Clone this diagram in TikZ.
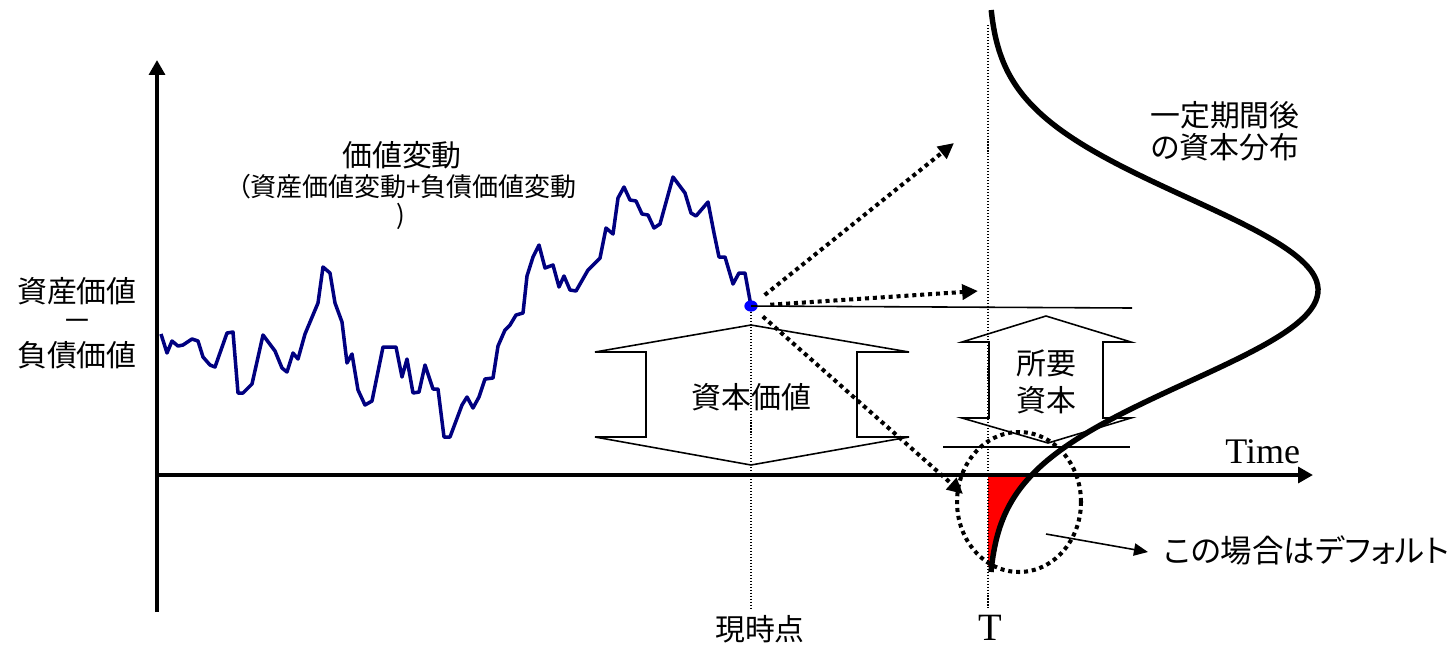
\documentclass[tikz,border=0pt]{standalone}
\usepackage{fontspec}
\newfontfamily\jp{Noto Sans CJK JP}[RawFeature=+palt]
\newfontfamily\tms{Liberation Serif}
\usetikzlibrary{arrows.meta,shapes.geometric}
\definecolor{walkc}{RGB}{0,0,128}
\definecolor{dotc}{RGB}{0,0,255}
\tikzset{
  jl/.style={font=\jp\fontsize{17}{20}\selectfont, inner sep=0pt},
  js/.style={font=\jp\fontsize{14.8}{17}\selectfont, inner sep=0pt},
  jd/.style={font=\jp\fontsize{17.9}{20}\selectfont, inner sep=0pt},
  axisline/.style={line width=2.1pt, -{Triangle[length=8.5pt,width=9pt]}},
  walk/.style={draw=walkc, line width=2pt, line join=round},
  dotline/.style={line width=2.3pt, dash pattern=on 2.3pt off 2.2pt},
  dotarrow/.style={dotline, -{Triangle[length=9pt,width=8.5pt]}},
  guide/.style={line width=0.6pt, dash pattern=on 0.6pt off 1.1pt},
  thinline/.style={line width=0.9pt},
  pointer/.style={line width=0.9pt, -{Triangle[length=8pt,width=7pt]}},
  dist/.style={line width=3.1pt, line cap=butt},
}
\begin{document}
\begin{tikzpicture}[x=0.02cm,y=-0.02cm]
\useasboundingbox (0,0) rectangle (1454,647);

% coordinates
\coordinate (ybot) at (157,612);
\coordinate (ytop) at (157,60);
\coordinate (xo) at (157,475);
\coordinate (xend) at (1313,475);
\coordinate (g1b) at (751,609);
\coordinate (g2t) at (988,25);
\coordinate (g2b) at (988,609);
\coordinate (h1e) at (1132,308);
\coordinate (h2s) at (943,447);
\coordinate (h2e) at (1130,447);
\coordinate (tip1) at (954,143);
\coordinate (tip2) at (978,291);
\coordinate (tip3) at (963,494);
\coordinate (ps) at (1046,534);
\coordinate (pe) at (1148,552);

% red default area
\fill[red] (988,475) -- plot[domain=475:567, samples=40] ({988+330*exp(-0.5*((\x-290)/92)^2)}, \x) -- (988,567) -- cycle;

% guides
\draw[guide] (751,306) -- (g1b);
\draw[guide] (g2t) -- (g2b);

% axes
\draw[axisline] (ybot) -- (ytop);
\draw[axisline] (xo) -- (xend);

% random walk
\draw[walk] plot coordinates {(161,334) (167,353) (172,341) (178,346) (183,345) (192,339) (198,341) (203,357) (210,365) (215,367) (227,333) (233,332) (238,393) (243,393) (252,384) (263,335) (275,351) (282,368) (287,372) (293,353) (298,359) (305,334) (318,303) (323,267) (330,273) (335,303) (342,322) (347,363) (352,354) (358,390) (365,405) (372,401) (383,347) (396,347) (402,377) (407,359) (413,393) (419,392) (425,365) (433,389) (438,389) (444,437) (450,437) (462,405) (467,397) (473,408) (479,397) (485,379) (493,378) (498,346) (505,330) (510,325) (516,315) (523,313) (527,276) (533,257) (539,245) (545,268) (553,265) (559,287) (564,276) (570,290) (576,291) (588,270) (600,258) (606,228) (613,234) (618,198) (624,187) (630,200) (636,201) (642,214) (648,215) (654,228) (660,224) (673,177) (685,193) (691,213) (696,216) (708,202) (714,233) (719,257) (725,257) (733,284) (739,273) (745,273) (751,306)};

\node[ellipse, fill=dotc, inner sep=0pt, minimum width=7.6pt, minimum height=6.4pt] (p) at (751,306) {};

% horizontal reference lines
\draw[thinline] (p.center) -- (h1e);
\draw[thinline] (h2s) -- (h2e);

% capital value double arrow
\draw[thinline] (751,325) -- (909,352) -- (857,352) -- (857,437) -- (909,437) -- (751,465) -- (595,437) -- (646,437) -- (646,352) -- (595,352) -- cycle;
\node[jl] (cap) at (751.5,397) {資本価値};

% required capital double arrow
\draw[thinline] (1046,316) -- (1131,342) -- (1103,342) -- (1103,418) -- (1131,418) -- (1048,443) -- (962,418) -- (989,418) -- (989,342) -- (962,342) -- cycle;
\node[jl] (req1) at (1046.5,363) {所要};
\node[jl] (req2) at (1046.5,400) {資本};

% dotted scenario arrows
\draw[dotarrow, shorten <=10pt] (p.center) -- (tip1);
\draw[dotarrow, shorten <=11pt] (p.center) -- (tip2);
\draw[dotarrow, shorten <=9pt] (p.center) -- (tip3);

% distribution
\draw[dist] plot[domain=10:572, samples=140, smooth] ({988+330*exp(-0.5*((\x-290)/92)^2)}, \x);

% default circle
\draw[dotline] (1019,502) ellipse [x radius=1.24cm, y radius=1.4cm];
\draw[pointer] (ps) -- (pe);

% labels
\node[jl] (vt) at (402,155) {価値変動};
\node[js, anchor=east] (vs) at (577,187) {（資産価値変動+負債価値変動};
\node[js] (vp) at (401,216) {)};
\node[jl] (la) at (77,291) {資産価値};
\node[jl] (lb) at (77,325) {－};
\node[jl] (lc) at (77,355) {負債価値};
\node[jl] (d1) at (1225,115) {一定期間後};
\node[jl] (d2) at (1225,147) {の資本分布};
\node[jd, anchor=west] (df) at (1163,550) {この場合はデフォルト};
\node[jl] (now) at (760,629) {現時点};
\node[font=\tms\fontsize{22}{26}\selectfont, inner sep=0pt, anchor=base] (tT) at (990,640) {T};
\node[font=\tms\fontsize{20.5}{24}\selectfont, inner sep=0pt, anchor=base west] (tm) at (1225,463) {Time};
\end{tikzpicture}
\end{document}
